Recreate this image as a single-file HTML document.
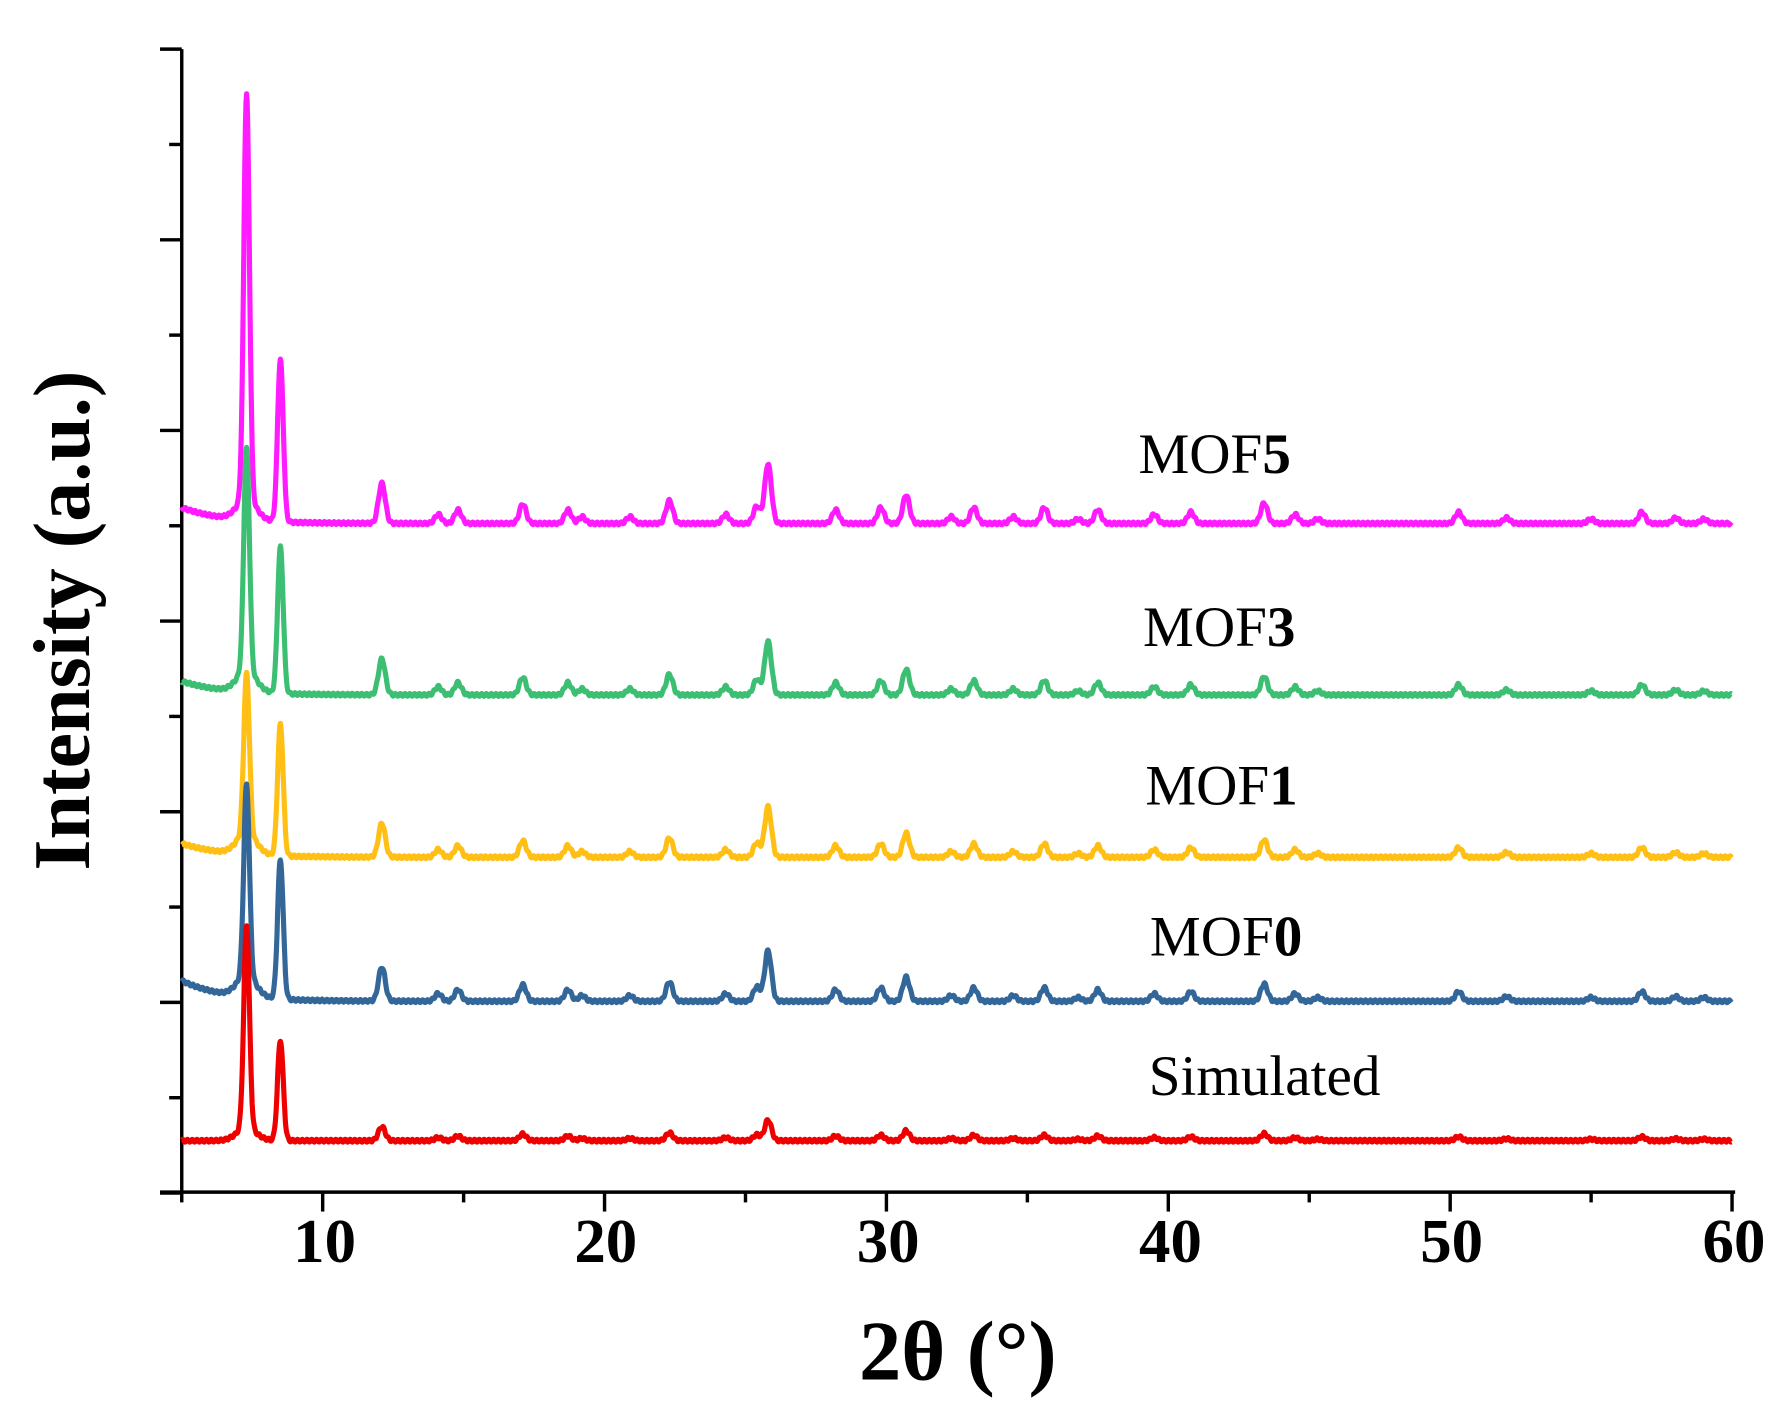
<!DOCTYPE html>
<html><head><meta charset="utf-8"><style>
html,body{margin:0;padding:0;background:#fff}
svg{display:block}
text{font-family:"Liberation Serif",serif;fill:#000}
</style></head><body>
<svg id="s" width="1790" height="1423" viewBox="0 0 1566 1245" preserveAspectRatio="none" xmlns="http://www.w3.org/2000/svg">
<g id="axes" stroke="#000" stroke-width="3" fill="none">
<line x1="159" y1="43" x2="159" y2="1044"/>
<line x1="140" y1="1043" x2="1518" y2="1043"/>
</g>
<g id="ticks" stroke="#000" stroke-width="3"></g>
<g id="series" fill="none" stroke-width="4.5" stroke-linejoin="round"></g>
<g font-weight="bold" font-size="55" text-anchor="middle">
<text x="284" y="1104">10</text>
<text x="530" y="1104">20</text>
<text x="777" y="1104">30</text>
<text x="1024" y="1104">40</text>
<text x="1270" y="1104">50</text>
<text x="1517" y="1104">60</text>
</g>
<text x="838" y="1207" font-size="74" font-weight="bold" text-anchor="middle">2θ (°)</text>
<text transform="translate(78,543) rotate(-90)" font-size="70" font-weight="bold" text-anchor="middle">Intensity (a.u.)</text>
<g font-size="50">
<text x="996" y="414">MOF<tspan font-weight="bold">5</tspan></text>
<text x="1000" y="565">MOF<tspan font-weight="bold">3</tspan></text>
<text x="1002" y="704">MOF<tspan font-weight="bold">1</tspan></text>
<text x="1006" y="836">MOF<tspan font-weight="bold">0</tspan></text>
<text x="1005" y="958">Simulated</text>
</g>
</svg>
<script>
var X=function(t){return 159+(t-5)*24.66;};
var tk=document.getElementById('ticks'),h='';
for(var t=5;t<=60;t+=5){var x=X(t);h+='<line x1="'+x+'" y1="1043" x2="'+x+'" y2="'+(t%10==0?1060:1052)+'"/>';}
for(var i=0;i<=12;i++){var y=43+i*83.4;h+='<line x1="'+(i%2==0?140:148)+'" y1="'+y+'" x2="159" y2="'+y+'"/>';}
tk.innerHTML=h;
var pk=[[12.1,35],[14.1,8],[14.8,12],[17.1,17],[18.7,12],[19.2,6],[20.9,6],[22.3,20],[24.3,8],[25.4,15],[25.8,52],[28.2,12],[29.8,14],[30.7,25],[32.3,6],[33.1,14],[34.5,6],[35.6,14],[36.8,4],[37.5,12],[39.5,8],[40.8,10],[43.4,18],[44.5,8],[45.3,4],[50.3,10],[52,5],[55,4],[56.8,10],[58,5],[59,4]];
var S=[
{c:'#ff1aff',b:458,s0:14,p1:355,p2:142,m:1},
{c:'#3dbf73',b:608,s0:12,p1:195,p2:128,m:0.9},
{c:'#ffbf14',b:750,s0:12,p1:140,p2:115,m:0.85},
{c:'#336699',b:876,s0:18,p1:168,p2:122,m:0.85},
{c:'#ee0000',b:998,s0:0,p1:178,p2:88,m:0.35}];
var g=document.getElementById('series'),o='';
S.forEach(function(s,k){
 var d='';
 for(var t=5;t<=60;t+=0.02){
  var bg=s.s0*Math.exp(-(t-5)/1.5);
  var v=bg+s.p1*Math.exp(-Math.pow((t-7.3)/0.1,2)/2)+s.p2*Math.exp(-Math.pow((t-8.5)/0.1,2)/2)+18*Math.exp(-Math.pow((t-7.3)/0.35,2)/2)*(k<4?1:0.6);
  pk.forEach(function(p){v+=p[1]*s.m*Math.exp(-Math.pow((t-p[0])/0.12,2)/2);});
  v+=Math.sin(t*37+k)*1.2;
  d+=(d?'L':'M')+X(t).toFixed(1)+' '+(s.b-v).toFixed(1);
 }
 o+='<path stroke="'+s.c+'" d="'+d+'"/>';
});
g.innerHTML=o;
</script>
</body></html>
